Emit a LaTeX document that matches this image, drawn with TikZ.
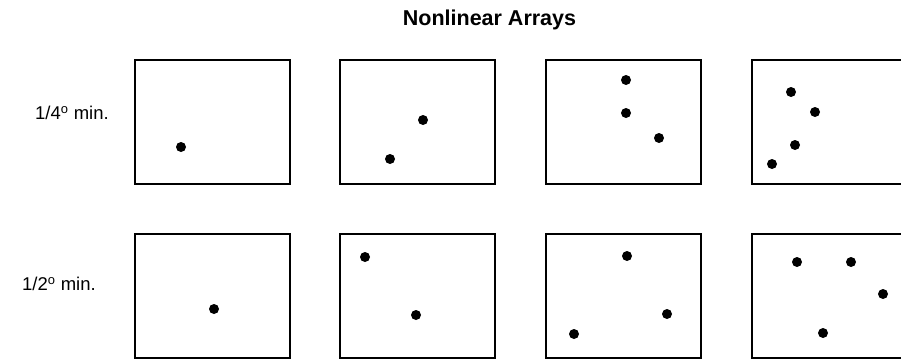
\documentclass[tikz,border=0pt]{standalone}
\usepackage{fontspec}
\setmainfont{Liberation Sans}

\begin{document}
\begin{tikzpicture}[x=1pt,y=-1pt,
	frame/.style={draw,line width=2pt,minimum width=155pt,minimum height=124pt,inner sep=0pt},
	spot/.style={circle,fill,inner sep=0pt,minimum size=10pt},
	rowlabel/.style={font=\fontsize{18.5}{21}\selectfont,anchor=west,inner sep=0pt}]
			\clip (0,0) rectangle (901,361);
			%
			\node[font=\fontsize{21.5}{25}\bfseries\selectfont] (title) at (489.5,20) {Nonlinear Arrays};
			\node[rowlabel] (quarter) at (35,113) {1/4\textsuperscript{o} min.};
			\node[rowlabel] (half) at (22,284) {1/2\textsuperscript{o} min.};
			%
			\node[frame] (fa1) at (212.5,122) {};
			\node[frame] (fa2) at (417,122) {};
			\node[frame] (fa3) at (623,122) {};
			\node[frame] (fa4) at (829.5,122) {};
			\node[frame] (fb1) at (212.5,296) {};
			\node[frame] (fb2) at (417,296) {};
			\node[frame] (fb3) at (623,296) {};
			\node[frame] (fb4) at (829.5,296) {};
			%
			\node[spot] (a1p1) at (181,147) {};
			\node[spot] (a2p1) at (423,120) {};
			\node[spot] (a2p2) at (390,159) {};
			\node[spot] (a3p1) at (626,80) {};
			\node[spot] (a3p2) at (626,113) {};
			\node[spot] (a3p3) at (659,138) {};
			\node[spot] (a4p1) at (791,92) {};
			\node[spot] (a4p2) at (815,112) {};
			\node[spot] (a4p3) at (795,145) {};
			\node[spot] (a4p4) at (772,164) {};
			%
			\node[spot] (b1p1) at (214,309) {};
			\node[spot] (b2p1) at (365,257) {};
			\node[spot] (b2p2) at (416,315) {};
			\node[spot] (b3p1) at (627,256) {};
			\node[spot] (b3p2) at (667,314) {};
			\node[spot] (b3p3) at (574,334) {};
			\node[spot] (b4p1) at (797,262) {};
			\node[spot] (b4p2) at (851,262) {};
			\node[spot] (b4p3) at (883,294) {};
			\node[spot] (b4p4) at (823,333) {};
			%
		\end{tikzpicture}
\end{document}
